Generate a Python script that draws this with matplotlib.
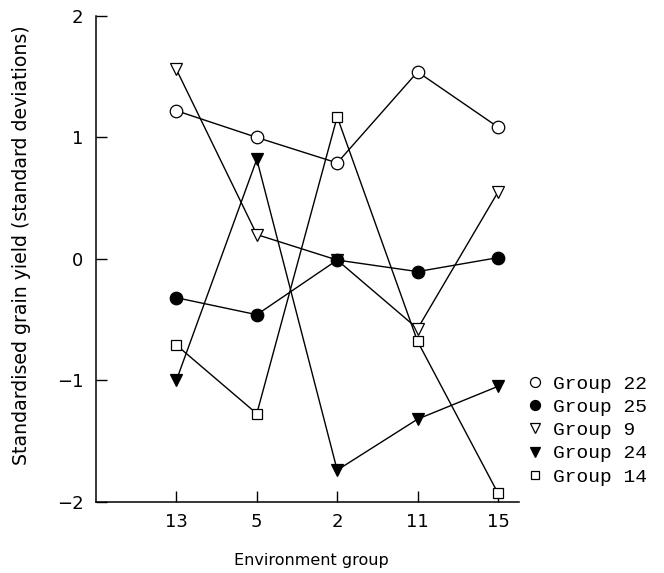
import matplotlib
matplotlib.use("Agg")
import matplotlib.pyplot as plt
from matplotlib.lines import Line2D

env_groups = ["13", "5", "2", "11", "15"]
group_labels = ["Group 22", "Group 25", "Group 9", "Group 24", "Group 14"]
group22 = [1.22, 1.00, 0.79, 1.54, 1.085]
group25 = [-0.32, -0.46, -0.01, -0.105, 0.01]
group9 = [1.56, 0.20, -0.01, -0.575, 0.55]
group24 = [-1.00, 0.82, -1.74, -1.32, -1.05]
group14 = [-0.71, -1.275, 1.17, -0.68, -1.93]

series = [group22, group25, group9, group24, group14]
markers = ["o", "o", "v", "v", "s"]
faces = ["white", "black", "white", "black", "white"]
msizes = [9, 9, 8.6, 8.6, 7.6]

plt.rcParams['font.family'] = ['DejaVu Sans']

fig = plt.figure(figsize=(6.64, 5.73), dpi=100)
ax = fig.add_axes([96/664, 1 - 501.7/573, (519.3 - 96)/664, (501.7 - 16)/573])

xpos = list(range(1, len(env_groups) + 1))
for vals in series:
    ax.plot(xpos, vals, color="black", lw=1.0, zorder=2)
order = [4, 3, 2, 1, 0]
for i in order:
    ax.plot(xpos, series[i], linestyle="none", marker=markers[i], markersize=msizes[i],
            markerfacecolor=faces[i], markeredgecolor="black", markeredgewidth=0.9,
            zorder=3)

ax.set_xlim(0, 5.265)
ax.set_ylim(-2, 2)
ax.set_xticks(xpos)
ax.set_xticklabels(env_groups)
ax.set_yticks([-2, -1, 0, 1, 2])
ax.set_yticklabels(["\u22122", "\u22121", "0", "1", "2"])
for s in ["top", "right"]:
    ax.spines[s].set_visible(False)
for s in ["left", "bottom"]:
    ax.spines[s].set_linewidth(1.1)
ax.tick_params(axis="both", direction="in", length=8, width=1.0, labelsize=13)
ax.tick_params(axis="y", pad=9)
ax.tick_params(axis="x", pad=8)

fig.text(311/664, 1 - 560/573, "Environment group", fontsize=11.5,
         ha="center", va="center")
fig.text(22/664, 1 - 245/573, "Standardised grain yield (standard deviations)",
         fontsize=13.6, rotation=90, ha="center", va="center")

handles = [Line2D([], [], linestyle="none", marker=m, markersize=ms,
                  markerfacecolor=fc, markeredgecolor="black", markeredgewidth=0.9)
           for m, fc, ms in zip(markers, faces, msizes)]
fig.legend(handles, group_labels, loc="upper left",
           bbox_to_anchor=(527/664, 1 - 375/573), frameon=False,
           borderpad=0, borderaxespad=0, handlelength=0.8, handletextpad=0.55,
           labelspacing=0.29, markerscale=0.8,
           prop={"family": "Liberation Mono", "size": 14})

fig.savefig("out.png", dpi=100)
